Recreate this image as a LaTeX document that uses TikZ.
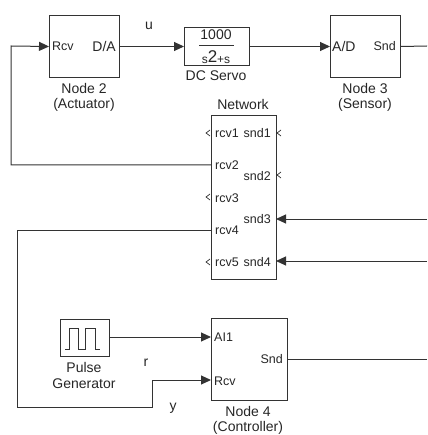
\documentclass[tikz,border=0pt]{standalone}
\usepackage{fontspec}
\setmainfont{Liberation Sans}
\usetikzlibrary{arrows.meta}
\tikzset{
    block/.style={draw, line width=1pt, inner sep=0pt, anchor=north west},
    txt/.style={inner sep=0pt, text=black!85, font=\fontsize{14}{14}\selectfont},
    port/.style={inner sep=0pt, text=black!85, font=\fontsize{12.5}{12.5}\selectfont},
    sig/.style={line width=1pt, -{Triangle[length=10pt,width=9pt]}},
    wire/.style={line width=1pt}
}
\begin{document}
\begin{tikzpicture}[x=1pt,y=-1pt,draw=black!80]
            \useasboundingbox (0,0) rectangle (427,435);

            % Blocks
            \node[block, minimum width=70pt, minimum height=62pt] (node2) at (49,15) {};
            \node[block, minimum width=65pt, minimum height=38pt] (servo) at (184,27) {};
            \node[block, minimum width=70pt, minimum height=62pt] (node3) at (330,15) {};
            \node[block, minimum width=65pt, minimum height=164pt] (net) at (211,115) {};
            \node[block, minimum width=49pt, minimum height=37pt] (pulse) at (60,319) {};
            \node[block, minimum width=76pt, minimum height=82pt] (node4) at (211,318) {};

            % Block texts
            \node[port, anchor=west] (rcvA) at (52,46) {Rcv};
            \node[txt, anchor=east] (da) at (116,46) {D/A};
            \node[txt, anchor=west] (ad) at (332,46) {A/D};
            \node[port, anchor=east] (sndC) at (396,46) {Snd};
            \node[port, anchor=west] (ai) at (214,337) {AI1};
            \node[port, anchor=west] (rcvD) at (214,381) {Rcv};
            \node[port, anchor=east] (sndD) at (283,359) {Snd};
            \node[txt] (num) at (216,35) {1000};
            \node[txt] (den) at (216,57) {\fontsize{12}{12}\selectfont s\raisebox{1.5pt}{\fontsize{17}{17}\selectfont 2}+s};
            \draw[wire] (199,46) -- (234,46);

            % Network ports
            \node[port, anchor=west] (rcv1) at (215,133) {rcv1};
            \node[port, anchor=west] (rcv2) at (215,165) {rcv2};
            \node[port, anchor=west] (rcv3) at (215,198) {rcv3};
            \node[port, anchor=west] (rcv4) at (215,230) {rcv4};
            \node[port, anchor=west] (rcv5) at (215,262) {rcv5};
            \node[port, anchor=east] (snd1) at (271,133) {snd1};
            \node[port, anchor=east] (snd2) at (271,176) {snd2};
            \node[port, anchor=east] (snd3) at (271,219) {snd3};
            \node[port, anchor=east] (snd4) at (271,262) {snd4};

            % Captions
            \node[txt] (cap2a) at (84,88) {Node 2};
            \node[txt] (cap2b) at (84,105) {(Actuator)};
            \node[txt] (capS) at (216,76) {DC Servo};
            \node[txt] (cap3a) at (365,88) {Node 3};
            \node[txt] (cap3b) at (365,105) {(Sensor)};
            \node[txt] (capN) at (243,104) {Network};
            \node[txt] (capPa) at (84,367) {Pulse};
            \node[txt] (capPb) at (84,384) {Generator};
            \node[txt] (cap4a) at (248,411) {Node 4};
            \node[txt] (cap4b) at (248,428) {(Controller)};
            \node[txt] (u) at (149,26) {u};
            \node[txt] (r) at (146,363) {r};
            \node[txt] (y) at (173,408) {y};

            % Free ends and ports
            \coordinate (out3) at (427,46);
            \coordinate (out4) at (427,359);
            \coordinate (in3) at (427,219);
            \coordinate (in4) at (427,261);
            \coordinate (p3) at (276,219);
            \coordinate (p4) at (276,261);
            \coordinate (q2) at (211,165);
            \coordinate (q4) at (211,230);
            \coordinate (a1) at (211,337);
            \coordinate (a2) at (211,380);

            % Draw edges
            \draw[sig] (q2) -- (11,165) -- (11,46) -- (node2.west);
            \draw[sig] (node2.east) -- (servo.west);
            \draw[sig] (servo.east) -- (node3.west);
            \draw[wire] (node3.east) -- (out3);
            \draw[sig] (in3) -- (p3);
            \draw[sig] (in4) -- (p4);
            \draw[sig] (q4) -- (17,230) -- (17,407) -- (152,407) -- (152,380) -- (a2);
            \draw[sig] (pulse.east |- a1) -- (a1);
            \draw[wire] (node4.east |- out4) -- (out4);

            % Open ports
            \foreach \py in {133,197,262}
                \draw[line width=0.7pt] (210,\py-3) -- (206,\py) -- (210,\py+3);
            \foreach \py in {133,175}
                \draw[line width=0.7pt] (281,\py-3) -- (277,\py) -- (281,\py+3);

            % Pulse icon
            \draw[wire] (65,349) -- (69,349) -- (69,328) -- (78,328) -- (78,349) -- (85,349) -- (85,328) -- (95,328) -- (95,349) -- (100,349);
        \end{tikzpicture}
\end{document}
